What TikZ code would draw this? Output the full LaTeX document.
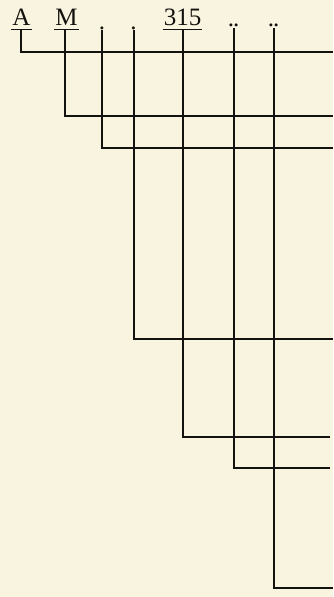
\documentclass[tikz,border=0pt]{standalone}
\usepackage{fontspec}
\setmainfont{Liberation Serif}
\definecolor{paper}{RGB}{249,244,224}
\definecolor{ink}{RGB}{20,18,14}
\begin{document}
\begin{tikzpicture}[x=1pt,y=-1pt,
  lab/.style={inner sep=0pt,anchor=base,font=\fontsize{25}{28}\selectfont,text=ink},
  wire/.style={draw=ink,line width=2pt,line cap=butt,line join=miter},
  ul/.style={draw=ink,line width=1.4pt}]
\fill[paper] (0,0) rectangle (333,597);
\useasboundingbox (0,0) rectangle (333,597);
% labels
\node[lab] (A) at (21.5,25) {A};
\node[lab] (M) at (66.5,25) {M};
\node[lab] (d1) at (102,29) {.};
\node[lab] (d2) at (133.5,29) {.};
\node[lab] (n315) at (182.5,25) {315};
\node[lab] (dd1) at (233.5,26) {.\kern-1pt.};
\node[lab] (dd2) at (273.5,26) {.\kern-1pt.};
% underlines
\draw[ul] ([xshift=-1pt,yshift=-4.5pt]A.base west) -- ([xshift=1pt,yshift=-4.5pt]A.base east);
\draw[ul] ([xshift=-1pt,yshift=-4.5pt]M.base west) -- ([xshift=1pt,yshift=-4.5pt]M.base east);
\draw[ul] ([xshift=-1pt,yshift=-4.5pt]n315.base west) -- ([xshift=1pt,yshift=-4.5pt]n315.base east);
% right-hand ends
\coordinate (eA) at (333,52);
\coordinate (eM) at (333,116);
\coordinate (ed1) at (333,148);
\coordinate (ed2) at (333,339);
\coordinate (e315) at (330,437);
\coordinate (edd1) at (330,468);
\coordinate (edd2) at (333,588);
% connectors
\draw[wire] ([xshift=-0.8pt,yshift=-4.5pt]A.base) |- (eA);
\draw[wire] ([xshift=-2pt,yshift=-4.5pt]M.base) |- (eM);
\draw[wire] ([yshift=-1pt]d1.base) |- (ed1);
\draw[wire] ([yshift=-1pt]d2.base) |- (ed2);
\draw[wire] ([xshift=0.5pt,yshift=-4.5pt]n315.base) |- (e315);
\draw[wire] ([yshift=-2pt]dd1.base) |- (edd1);
\draw[wire] ([yshift=-2pt]dd2.base) |- (edd2);
\end{tikzpicture}
\end{document}
